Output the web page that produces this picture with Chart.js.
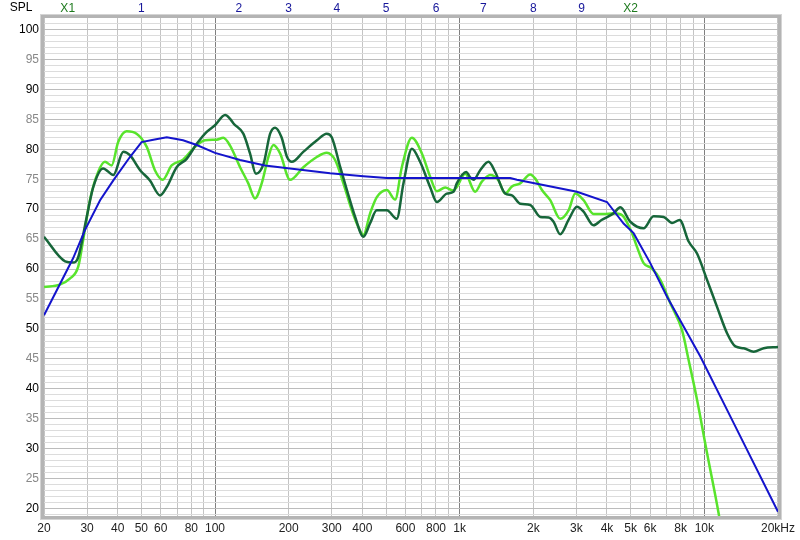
<!DOCTYPE html>
<html>
<head>
<meta charset="utf-8">
<script src="https://cdn.jsdelivr.net/npm/chart.js@4.4.1/dist/chart.umd.min.js"></script>
<style>
  html, body { margin: 0; padding: 0; background: #fff; }
  canvas { display: block; }
</style>
</head>
<body>
<canvas id="spl" width="800" height="540"></canvas>
<script>
// frequency response data (Hz / dB)
const darkFreq = [20, 24.4, 26.3, 27.5, 29.9, 31.8, 34.9, 38.4, 42.2, 44.9, 49.4, 54.2, 59.6, 63.5, 69.7, 76.6, 84.2, 92.5, 100, 110, 115, 119, 130.5, 139, 147, 158, 168, 176, 187, 197, 206, 230, 261, 286, 300, 325, 346, 374, 404, 430, 458, 504, 553, 589, 638, 689, 757, 807, 886, 943, 973, 1063, 1104, 1139, 1213, 1312, 1397, 1535, 1635, 1768, 1943, 2135, 2308, 2419, 2576, 2786, 3015, 3208, 3525, 3800, 4257, 4534, 4982, 5645, 6203, 6816, 7379, 7925, 8628, 9336, 10257, 11270, 12383, 13391, 14478, 15907, 17476, 20000];
const darkSpl  = [65.4, 61.3, 61.1, 61.8, 68.7, 73.7, 76.8, 75.7, 79.6, 79.0, 76.5, 74.8, 72.3, 73.7, 77.0, 78.4, 80.9, 82.9, 84.0, 85.7, 85.1, 84.3, 82.6, 79.3, 75.9, 77.6, 82.6, 83.6, 82.0, 78.7, 77.9, 79.6, 81.5, 82.6, 82.0, 77.0, 73.2, 68.7, 65.4, 67.6, 69.8, 69.8, 68.4, 74.3, 80.1, 77.9, 73.7, 71.2, 72.6, 72.9, 74.3, 76.2, 75.3, 74.9, 76.5, 77.9, 76.2, 72.6, 72.3, 70.9, 70.7, 68.7, 68.6, 67.9, 65.8, 68.2, 70.4, 69.6, 67.3, 68.2, 69.3, 70.3, 67.9, 66.8, 68.8, 68.7, 67.7, 68.2, 64.6, 62.6, 58.2, 53.7, 49.3, 47.1, 46.8, 46.2, 46.8, 47.0];

const lightFreq = [20, 23.2, 25.5, 27.6, 28.9, 30.8, 33.3, 35.5, 37.8, 40.2, 43.5, 47.8, 52.6, 56.8, 61.1, 66.5, 74.2, 82.8, 91, 101.6, 108.1, 115.2, 126.6, 136.8, 145.7, 155.2, 165.2, 173.2, 184.5, 202.6, 229.7, 260.6, 286.3, 309.6, 334.7, 362.3, 385.6, 404.2, 430.5, 458.5, 503.8, 544.8, 580.1, 637.6, 700.6, 757.5, 806.7, 872.3, 943.1, 973, 1053, 1157, 1232, 1333, 1441, 1535, 1635, 1768, 1943, 2037, 2169, 2345, 2576, 2786, 2967, 3208, 3525, 3874, 4257, 4607, 5062, 5305, 5645, 6110, 6607, 7261, 8105, 8628, 9336, 10257, 11466, 12000];
const lightSpl  = [57.0, 57.4, 58.4, 60.4, 64.8, 71.5, 76.2, 77.9, 77.3, 81.2, 83.0, 82.6, 80.4, 76.5, 74.9, 77.3, 78.3, 80.4, 81.5, 81.6, 81.9, 80.6, 77.0, 74.3, 71.8, 74.3, 78.7, 80.7, 79.3, 74.9, 77.0, 78.7, 79.4, 78.2, 74.3, 69.8, 67.0, 65.7, 69.3, 72.0, 73.2, 71.6, 77.0, 81.9, 79.3, 75.4, 73.0, 73.6, 73.1, 73.7, 75.9, 72.9, 74.6, 75.7, 74.8, 72.6, 73.8, 74.3, 75.8, 75.1, 73.2, 71.5, 68.4, 69.8, 72.6, 71.5, 69.2, 69.2, 69.3, 69.0, 66.0, 63.7, 61.0, 60.1, 58.2, 54.3, 49.8, 44.8, 38.2, 29.3, 19.0, 14.0];

const targetFreq = [20, 21.5, 26.3, 29.4, 33.9, 38.4, 44.9, 50.1, 56, 63.5, 74, 84.2, 100, 126.6, 160, 202.6, 295.3, 404.2, 503.8, 1609, 1714, 3015, 4000, 4677, 5138, 6013, 7038, 9630, 13180, 20000];
const targetSpl  = [52.3, 54.8, 61.8, 66.5, 71.5, 74.8, 78.7, 81.2, 81.6, 82.0, 81.5, 80.7, 79.4, 78.2, 77.3, 76.8, 76.0, 75.5, 75.2, 75.2, 74.9, 72.9, 71.2, 67.6, 66.0, 61.0, 55.4, 45.4, 34.3, 19.5];

// axis ticks
const xTicks = [20, 30, 40, 50, 60, 70, 80, 90, 100, 200, 300, 400, 500, 600, 700, 800, 900, 1000, 2000, 3000, 4000, 5000, 6000, 7000, 8000, 9000, 10000, 20000];
const xTickLabels = { 20: '20', 30: '30', 40: '40', 50: '50', 60: '60', 80: '80', 100: '100', 200: '200', 300: '300', 400: '400', 600: '600', 800: '800', 1000: '1k', 2000: '2k', 3000: '3k', 4000: '4k', 5000: '5k', 6000: '6k', 8000: '8k', 10000: '10k', 20000: '20kHz' };
const xDecades = [100, 1000, 10000];

// markers along the top edge
const markerFreqs = [25, 50, 125, 200, 315, 500, 800, 1250, 2000, 3150, 5000];
const markerLabels = ['X1', '1', '2', '3', '4', '5', '6', '7', '8', '9', 'X2'];

const FONT = "'Liberation Sans', Arial, sans-serif";

const toPoints = (fs, vs) => fs.map((f, i) => ({ x: f, y: vs[i] }));

const framePlugin = {
  id: 'frame',
  afterDraw(chart) {
    const { ctx, chartArea: a, scales } = chart;
    ctx.save();
    // sunken border round the plot
    ctx.strokeStyle = '#b4b4b4';
    ctx.lineWidth = 3;
    ctx.strokeRect(a.left - 1.5, a.top - 1.5, a.right - a.left + 3, a.bottom - a.top + 3);
    ctx.strokeStyle = '#d4d4d4';
    ctx.lineWidth = 1;
    ctx.strokeRect(a.left - 3.5, a.top - 3.5, a.right - a.left + 7, a.bottom - a.top + 7);

    ctx.font = '12px ' + FONT;
    ctx.textBaseline = 'middle';
    ctx.textAlign = 'center';
    ctx.fillStyle = '#000';
    ctx.fillText('SPL', 21, 8);

    markerLabels.forEach((lab, i) => {
      const x = scales.x.getPixelForValue(markerFreqs[i]);
      ctx.fillStyle = lab.startsWith('X') ? '#1e7a1e' : '#16169a';
      ctx.fillText(lab, x, 9);
    });
    ctx.restore();
  }
};

new Chart(document.getElementById('spl'), {
  type: 'line',
  data: {
    datasets: [
      {
        label: 'target',
        data: toPoints(targetFreq, targetSpl),
        borderColor: '#1414cc',
        borderWidth: 2,
        pointRadius: 0,
        tension: 0,
      },
      {
        label: 'measured 1',
        data: toPoints(darkFreq, darkSpl),
        borderColor: '#17663a',
        borderWidth: 2.5,
        pointRadius: 0,
        cubicInterpolationMode: 'monotone',
      },
      {
        label: 'measured 2',
        data: toPoints(lightFreq, lightSpl),
        borderColor: '#58e42c',
        borderWidth: 2.5,
        pointRadius: 0,
        cubicInterpolationMode: 'monotone',
      },
    ],
  },
  options: {
    responsive: false,
    animation: false,
    layout: { padding: { top: 18, right: 22, left: 0, bottom: 0 } },
    plugins: {
      legend: { display: false },
      tooltip: { enabled: false },
    },
    scales: {
      x: {
        type: 'logarithmic',
        min: 20,
        max: 20000,
        afterBuildTicks: s => { s.ticks = xTicks.map(v => ({ value: v })); },
        afterFit: s => { s.height = 24; },
        border: { display: false },
        grid: {
          drawTicks: false,
          color: c => (c.tick && xDecades.includes(c.tick.value)) ? '#808080' : '#c4c4c4',
        },
        ticks: {
          autoSkip: false,
          maxRotation: 0,
          padding: 5,
          color: '#222',
          font: { family: FONT, size: 12 },
          callback: v => xTickLabels[v] || '',
        },
      },
      y: {
        min: 18.8,
        max: 101.9,
        afterBuildTicks: s => {
          const t = [];
          for (let v = 19; v <= 101; v++) t.push({ value: v });
          s.ticks = t;
        },
        afterFit: s => { s.width = 44; },
        border: { display: false },
        grid: {
          drawTicks: false,
          color: c => (c.tick && c.tick.value % 5 === 0) ? '#bcbcbc' : '#dcdcdc',
        },
        ticks: {
          autoSkip: false,
          padding: 5,
          font: { family: FONT, size: 12 },
          color: c => (c.tick && c.tick.value % 10 === 0) ? '#000' : '#888',
          callback: v => (v % 5 === 0 ? String(v) : ''),
        },
      },
    },
  },
  plugins: [framePlugin],
});
</script>
</body>
</html>
